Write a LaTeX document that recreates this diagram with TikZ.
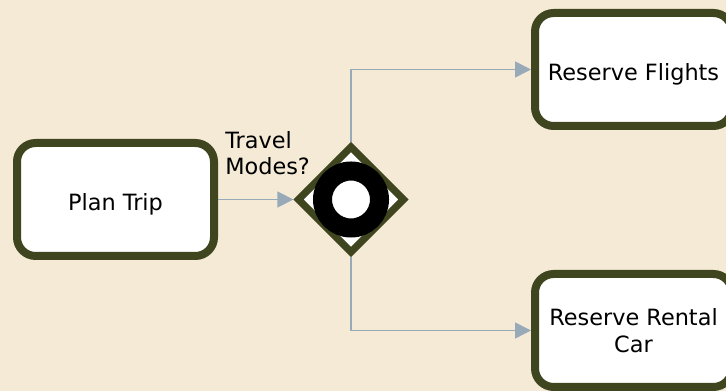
\documentclass[tikz,border=0pt]{standalone}
\usepackage{fontspec}
\setmainfont{DejaVu Sans}
\usetikzlibrary{shapes.geometric,arrows.meta}
\definecolor{parchment}{RGB}{244,234,214}
\definecolor{moss}{RGB}{63,69,30}
\definecolor{flow}{RGB}{152,170,184}
\setlength{\parindent}{0pt}

\begin{document}
\begin{tikzpicture}[x=0.75pt, y=-0.75pt,
  task/.style={draw=moss, line width=6pt, fill=white, rounded corners=14pt,
    minimum width=147.75pt, minimum height=84.75pt, align=center,
    font=\fontsize{16.8}{20}\selectfont,
    execute at begin node={\vrule width 0pt height 20pt}},
  flowline/.style={draw=flow, line width=1.2pt,
    -{Triangle[length=12pt,width=12pt]}}]
  \useasboundingbox (0,0) rectangle (726,391);
  \fill[parchment] (0,0) rectangle (726,391);
  \clip (0,0) rectangle (726,391);

  % tasks
  \node[task] (plan) at (115.5,199.5) {Plan Trip};
  \node[task] (flights) at (633.5,69.5) {Reserve Flights};
  \node[task] (rental) at (633.5,330.5) {Reserve Rental\\Car};

  % inclusive gateway
  \node[diamond, aspect=1, draw=moss, line width=5.5pt, fill=white,
        inner sep=0pt, minimum width=81pt, minimum height=81pt]
        (gate) at (351,199.5) {};
  \node[circle, draw=black, line width=14.25pt, fill=white,
        inner sep=0pt, minimum size=42.75pt] (ring) at (gate.center) {};
  \node[anchor=north west, inner sep=0pt, align=left,
        font=\fontsize{16.8}{20}\selectfont] (modes) at (225,131) {Travel\\Modes?};

  % sequence flows
  \draw[flowline] (plan) -- (gate);
  \draw[flowline] (gate.north) |- (flights.west);
  \draw[flowline] (gate.south) |- (rental.west);
\end{tikzpicture}
\end{document}
